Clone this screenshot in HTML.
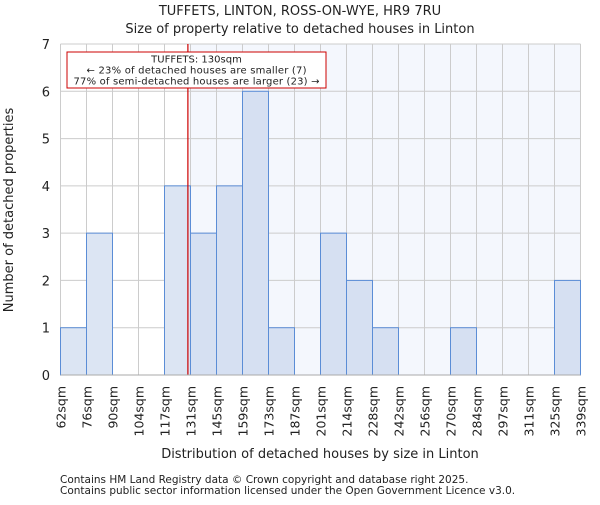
<!DOCTYPE html>
<html><head><meta charset="utf-8"><style>
body{margin:0;background:#fff;font-family:"Liberation Sans","DejaVu Sans",sans-serif}
svg text{font-family:"DejaVu Sans","Liberation Sans",sans-serif;fill:#222}
</style></head><body>
<svg id="c" width="600" height="500"></svg>
<script>
const categories=["62sqm","76sqm","90sqm","104sqm","117sqm","131sqm","145sqm","159sqm","173sqm","187sqm","201sqm","214sqm","228sqm","242sqm","256sqm","270sqm","284sqm","297sqm","311sqm","325sqm","339sqm"];
const counts=[1,3,0,0,4,3,4,6,1,0,3,2,1,0,0,1,0,0,0,2];
const yTicks=[0,1,2,3,4,5,6,7];
const subjectIndex=4.9;
const NS="http://www.w3.org/2000/svg";
const svg=document.getElementById('c');
const L=60.5,R=580.5,T=44,B=375;
const nb=counts.length;
const x=i=>L+(R-L)*i/nb;
const y=v=>B-(B-T)*v/7;
function el(tag,a,txt){const e=document.createElementNS(NS,tag);for(const k in a)e.setAttribute(k,a[k]);if(txt!=null)e.textContent=txt;svg.appendChild(e);return e;}
const sx=x(subjectIndex);
let e=el('rect',{x:sx+1.5,y:T,width:R-sx-1.5,height:B-T,fill:'#f4f7fd'});


for(let i=0;i<=nb;i++){e=el('line',{x1:x(i),x2:x(i),y1:T,y2:B,stroke:'#cccccc'});

}
yTicks.forEach(v=>{e=el('line',{x1:L,x2:R,y1:y(v),y2:y(v),stroke:'#cccccc'});


e=el('text',{x:50,y:y(v)+5,'text-anchor':'end','font-size':13},v);

});
counts.forEach((c,i)=>{if(c<=0)return;
e=el('rect',{x:x(i),y:y(c),width:x(i+1)-x(i),height:B-y(c),fill:i<subjectIndex?'#dce5f3':'#d6e0f2',stroke:'#5b8dd6','stroke-width':1});

});
e=el('line',{x1:sx,x2:sx,y1:T,y2:B,stroke:'#cc0000','stroke-width':1.2});


e=el('line',{x1:L,x2:R,y1:B,y2:B,stroke:'#aaaaaa'});


categories.forEach((c,i)=>{e=el('text',{transform:`translate(${x(i)+5},386) rotate(-90)`,'text-anchor':'end','font-size':12.5},c);

});
e=el('rect',{x:67,y:52,width:259,height:36,fill:'#fff',stroke:'#cc0000','stroke-width':1});


[["TUFFETS: 130sqm",62.5],["← 23% of detached houses are smaller (7)",73.5],["77% of semi-detached houses are larger (23) →",84.5]].forEach(t=>{
e=el('text',{x:196.5,y:t[1],'text-anchor':'middle','font-size':10,textLength:t[0].length>20?(t[0].startsWith('77')?246:220):null},t[0]);
if(!(t[0].length>20))e.removeAttribute('textLength');

});
e=el('text',{x:300,y:15,'text-anchor':'middle','font-size':13},"TUFFETS, LINTON, ROSS-ON-WYE, HR9 7RU");


e=el('text',{x:300,y:33,'text-anchor':'middle','font-size':13},"Size of property relative to detached houses in Linton");


e=el('text',{x:320,y:458,'text-anchor':'middle','font-size':13},"Distribution of detached houses by size in Linton");


e=el('text',{transform:'translate(13,210) rotate(-90)','text-anchor':'middle','font-size':13},"Number of detached properties");


e=el('text',{x:60,y:483,'font-size':10.5,fill:'#444'},"Contains HM Land Registry data © Crown copyright and database right 2025.");


e=el('text',{x:60,y:494,'font-size':10.5,fill:'#444'},"Contains public sector information licensed under the Open Government Licence v3.0.");


</script>
</body></html>
